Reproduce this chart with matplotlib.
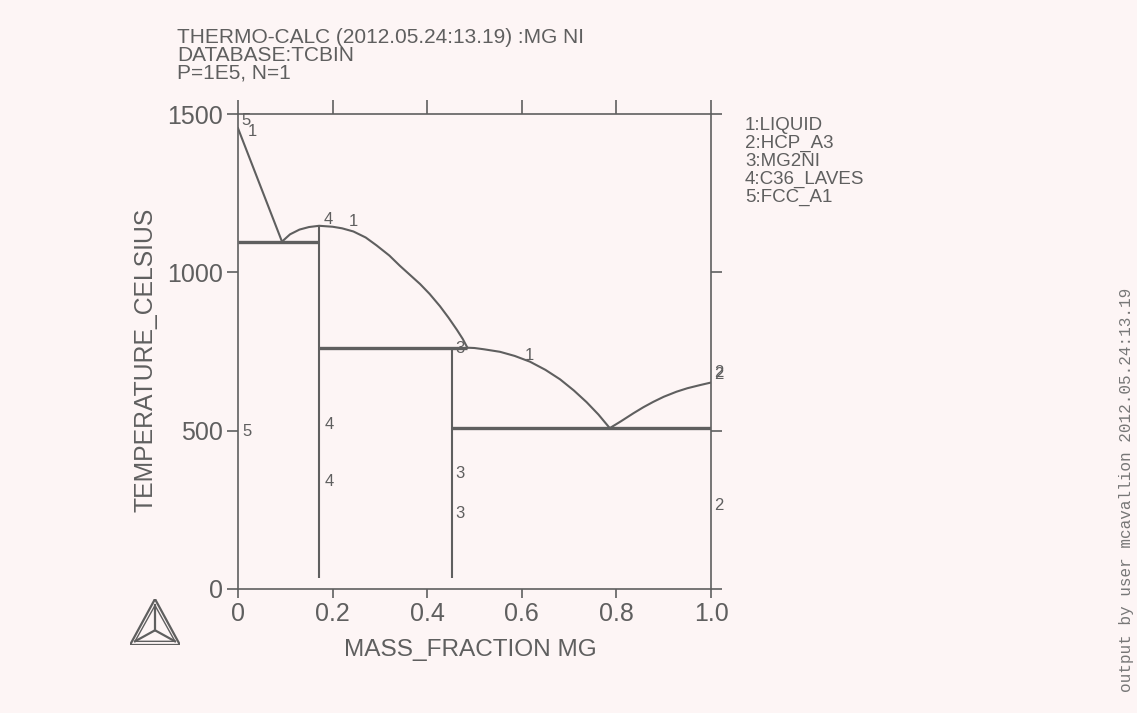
import matplotlib
matplotlib.use("Agg")
import matplotlib.pyplot as plt

# ---------------- data ----------------
liq_left_x = [0.0, 0.093]
liq_left_T = [1455, 1097]

liq_mid_x = [0.093, 0.11, 0.13, 0.15, 0.1715, 0.20, 0.22, 0.244, 0.27, 0.293, 0.32, 0.342, 0.365,
             0.385, 0.405, 0.427, 0.445, 0.463, 0.475, 0.485]
liq_mid_T = [1097, 1120, 1135, 1143, 1147, 1144, 1139, 1129, 1110, 1085, 1053, 1021, 990,
             963, 932, 893, 857, 818, 790, 762]

liq_peri_x = [0.485, 0.50, 0.52, 0.554, 0.585, 0.617, 0.65, 0.681, 0.71, 0.737, 0.762, 0.786]
liq_peri_T = [762, 761, 757, 749, 736, 718, 692, 662, 627, 590, 551, 508]

liq_mg_x = [0.786, 0.81, 0.836, 0.857, 0.878, 0.90, 0.927, 0.95, 0.977, 1.0]
liq_mg_T = [508, 530, 555, 574, 591, 607, 623, 634, 644, 652]

# invariant (horizontal) lines
inv_x0 = [0.0, 0.1715, 0.453]
inv_x1 = [0.1715, 0.485, 1.0]
inv_T = [1097, 762, 508]

# compound (vertical) lines
comp_x = [0.1715, 0.453]
comp_T0 = [35, 35]
comp_T1 = [1147, 762]

# phase number labels on the diagram
lab_text = ["5", "1", "4", "1", "3", "1", "2", "2", "5", "4", "4", "3", "3", "2"]
lab_x = [0.017, 0.030, 0.190, 0.243, 0.470, 0.617, 1.016, 1.016, 0.020, 0.192, 0.192, 0.470, 0.470, 1.016]
lab_T = [1481, 1446, 1168, 1159, 761, 736, 684, 677, 496, 521, 338, 366, 237, 265]

legend_lines = ["1:LIQUID", "2:HCP_A3", "3:MG2NI", "4:C36_LAVES", "5:FCC_A1"]

x_ticks = [0, 0.2, 0.4, 0.6, 0.8, 1.0]
x_ticklabels = ["0", "0.2", "0.4", "0.6", "0.8", "1.0"]
y_ticks = [0, 500, 1000, 1500]
y_ticklabels = ["0", "500", "1000", "1500"]

title_lines = ["THERMO-CALC (2012.05.24:13.19) :MG NI", "DATABASE:TCBIN", "P=1E5, N=1"]

# ---------------- style ----------------
BG = "#fdf5f5"
GR = "#5f5f5f"
W, H = 1137, 713
plt.rcParams['font.family'] = ['Liberation Sans', 'DejaVu Sans']

fig = plt.figure(figsize=(W / 100, H / 100), dpi=100, facecolor=BG)
ax = fig.add_axes([238 / W, (H - 589) / H, (711 - 238) / W, (589 - 114) / H])
ax.set_facecolor(BG)
ax.set_xlim(0, 1.0)
ax.set_ylim(0, 1500)

for sp in ax.spines.values():
    sp.set_color(GR)
    sp.set_linewidth(1.2)

lw_curve = 1.5
lw_inv = 2.4
ax.plot(liq_left_x, liq_left_T, color=GR, lw=lw_curve)
ax.plot(liq_mid_x, liq_mid_T, color=GR, lw=lw_curve)
ax.plot(liq_peri_x, liq_peri_T, color=GR, lw=lw_curve)
ax.plot(liq_mg_x, liq_mg_T, color=GR, lw=lw_curve)
ax.hlines(inv_T, inv_x0, inv_x1, color=GR, lw=lw_inv)
ax.vlines(comp_x, comp_T0, comp_T1, color=GR, lw=1.5)

for t, x, y in zip(lab_text, lab_x, lab_T):
    ax.text(x, y, t, ha='center', va='center', fontsize=12, color=GR, clip_on=False)

ax.set_xticks(x_ticks)
ax.set_xticklabels(x_ticklabels)
ax.set_yticks(y_ticks)
ax.set_yticklabels(y_ticklabels)
ax.tick_params(axis='x', which='both', direction='out', top=True, bottom=True,
               length=6.5, width=1.2, color=GR, labelsize=18, labelcolor=GR, pad=3)
ax.tick_params(axis='y', which='both', direction='out', left=True, right=True,
               length=8, width=1.2, color=GR, labelsize=18, labelcolor=GR, pad=3)
for tl in ax.xaxis.get_ticklines(minor=False)[1::2]:
    tl.set_markersize(10)

# axis labels
fig.text(470 / W, 1 - 650 / H, "MASS_FRACTION MG", ha='center', va='center', fontsize=17.6, color=GR)
fig.text(145 / W, 1 - 360 / H, "TEMPERATURE_CELSIUS", ha='center', va='center', rotation=90,
         fontsize=17.8, color=GR)

# title block (one multi-line text, tight line spacing as in the reference)
fig.text(177 / W, 1 - 55.5 / H, "\n".join(title_lines), ha='left', va='center', fontsize=15,
         color=GR, linespacing=0.93)

# legend
for i, line in enumerate(legend_lines):
    fig.text(745 / W, 1 - (125 + 18.2 * i) / H, line, ha='left', va='center', fontsize=13.5, color=GR)

# side note
fig.text(1127 / W, 1 - 490 / H, "output by user mcavallion 2012.05.24:13.19", ha='center', va='center',
         rotation=90, fontsize=11.5, color="#777777", family=['Liberation Mono', 'DejaVu Sans Mono'])

# logo
lax = fig.add_axes([130 / W, (H - 645) / H, 50 / W, 46 / H])
lax.set_xlim(0, 1)
lax.set_ylim(0, 1)
lax.axis('off')
outer = [(0.5, 1.0), (0.0, 0.0), (1.0, 0.0), (0.5, 1.0)]
inner = [(0.5, 0.86), (0.1, 0.08), (0.9, 0.08), (0.5, 0.86)]
lax.plot([p[0] for p in outer], [p[1] for p in outer], color=GR, lw=1.6, solid_joinstyle='miter')
lax.plot([p[0] for p in inner], [p[1] for p in inner], color=GR, lw=1.0, solid_joinstyle='miter')
cx, cy = 0.5, 0.32
for vx, vy in [(0.5, 0.86), (0.1, 0.08), (0.9, 0.08)]:
    lax.plot([cx, vx], [cy, vy], color=GR, lw=1.6)

fig.savefig("out.png", dpi=100, facecolor=BG)
